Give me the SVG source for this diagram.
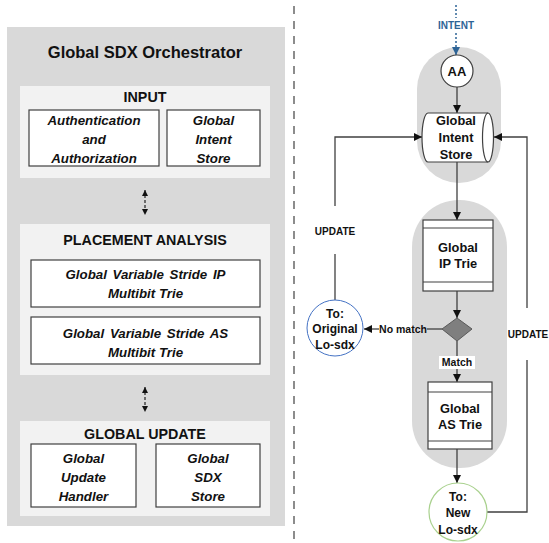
<svg xmlns="http://www.w3.org/2000/svg" width="549" height="543" viewBox="0 0 549 543">
<defs>
<style>
.t{font-family:"Liberation Sans",Arial,sans-serif;font-weight:bold;fill:#111;text-anchor:middle}
.it{font-style:italic;font-size:13.3px}
.hd{font-size:14.3px}
.rt{font-size:12.8px}
.sm{font-size:10px}
.box{fill:#fff;stroke:#404040;stroke-width:1.2}
.sec{fill:#f2f2f2}
.ln{fill:none;stroke:#404040;stroke-width:1.3}
.dl{fill:none;stroke:#222;stroke-width:1.2;stroke-dasharray:3,2}
</style>
<marker id="ah" viewBox="0 0 10 10" refX="10" refY="5" markerWidth="8" markerHeight="8" markerUnits="userSpaceOnUse" orient="auto"><path d="M0,0 L10,5 L0,10 Z" fill="#111"/></marker>
<marker id="ahs" viewBox="0 0 10 10" refX="10" refY="5" markerWidth="6" markerHeight="6" markerUnits="userSpaceOnUse" orient="auto-start-reverse"><path d="M0,0 L10,5 L0,10 Z" fill="#111"/></marker>
<marker id="ahb" viewBox="0 0 10 10" refX="10" refY="5" markerWidth="8" markerHeight="8" markerUnits="userSpaceOnUse" orient="auto"><path d="M0,0 L10,5 L0,10 Z" fill="#2e6496"/></marker>
</defs>
<rect width="549" height="543" fill="#fff"/>

<!-- Left panel -->
<g id="orchestrator">
<rect x="7" y="27" width="278" height="499" fill="#d9d9d9"/>
<text class="t" x="145" y="58" font-size="16.5">Global SDX Orchestrator</text>
</g>
<g id="input">
<rect class="sec" x="20" y="86" width="250" height="92"/>
<text class="t hd" x="145" y="101.5">INPUT</text>
</g>
<g id="auth">
<rect class="box" x="29" y="110" width="130" height="56"/>
<text class="t it" x="94" y="124.5">Authentication</text>
<text class="t it" x="94" y="143.5">and</text>
<text class="t it" x="94" y="162.5">Authorization</text>
</g>
<g id="gis-left">
<rect class="box" x="167" y="110" width="93" height="56"/>
<text class="t it" x="213.5" y="124.5">Global</text>
<text class="t it" x="213.5" y="143.5">Intent</text>
<text class="t it" x="213.5" y="162.5">Store</text>
</g>
<g id="placement">
<rect class="sec" x="20" y="224" width="250" height="151"/>
<text class="t hd" x="145" y="244.5">PLACEMENT ANALYSIS</text>
</g>
<g id="ip-multibit">
<rect class="box" x="31" y="260" width="229" height="47"/>
<text class="t it" x="145.5" y="278.5" word-spacing="2">Global Variable Stride IP</text>
<text class="t it" x="145.5" y="297.5">Multibit Trie</text>
</g>
<g id="as-multibit">
<rect class="box" x="31" y="317" width="229" height="47"/>
<text class="t it" x="145.5" y="337.5" word-spacing="2">Global Variable Stride AS</text>
<text class="t it" x="145.5" y="356.5">Multibit Trie</text>
</g>
<g id="global-update">
<rect class="sec" x="20" y="421" width="250" height="95"/>
<text class="t hd" x="145" y="438.5">GLOBAL UPDATE</text>
</g>
<g id="update-handler">
<rect class="box" x="31" y="444" width="105" height="63"/>
<text class="t it" x="83.5" y="462.5">Global</text>
<text class="t it" x="83.5" y="482">Update</text>
<text class="t it" x="83.5" y="500.5">Handler</text>
</g>
<g id="sdx-store">
<rect class="box" x="156" y="444" width="104" height="63"/>
<text class="t it" x="208" y="462.5">Global</text>
<text class="t it" x="208" y="482">SDX</text>
<text class="t it" x="208" y="500.5">Store</text>
</g>

<!-- divider -->
<line x1="294" y1="6" x2="294" y2="543" stroke="#8c8c8c" stroke-width="2" stroke-dasharray="8,7"/>

<!-- Right side backgrounds -->
<rect x="417" y="47" width="84" height="136" rx="42" ry="42" fill="#d9d9d9"/>
<rect x="412" y="200" width="95" height="268" rx="47" ry="47" fill="#d9d9d9"/>

<!-- connectors -->
<g id="connectors">
<line x1="145" y1="190" x2="145" y2="215" class="dl" marker-start="url(#ahs)" marker-end="url(#ahs)"/>
<line x1="145" y1="387" x2="145" y2="412" class="dl" marker-start="url(#ahs)" marker-end="url(#ahs)"/>
<line x1="456" y1="5" x2="456" y2="18" stroke="#2e6496" stroke-width="1.5" stroke-dasharray="2,2"/>
<line x1="456" y1="33" x2="456" y2="55" stroke="#2e6496" stroke-width="1.5" stroke-dasharray="2,2" marker-end="url(#ahb)"/>
<line x1="457" y1="87" x2="457" y2="113" class="ln" marker-end="url(#ah)"/>
<line x1="457" y1="162" x2="457" y2="220" class="ln" marker-end="url(#ah)"/>
<line x1="457" y1="291" x2="457" y2="318" class="ln" marker-end="url(#ah)"/>
<line x1="442" y1="329" x2="427" y2="329" class="ln"/>
<line x1="379" y1="329" x2="364" y2="329" class="ln" marker-end="url(#ah)"/>
<line x1="457" y1="341" x2="457" y2="382" class="ln" marker-end="url(#ah)"/>
<line x1="457" y1="449" x2="457" y2="483" class="ln" marker-end="url(#ah)"/>
<polyline points="335,206 335,137 422,137" class="ln" marker-end="url(#ah)"/>
<line x1="335" y1="254" x2="335" y2="300" class="ln"/>
<polyline points="487,512 527,512 527,360" class="ln"/>
<polyline points="527,308 527,137 494,137" class="ln" marker-end="url(#ah)"/>
<text class="t sm" x="335" y="234.5">UPDATE</text>
<text class="t sm" x="528" y="337.5">UPDATE</text>
<text class="t" x="403" y="332.5" font-size="10.5">No match</text>
<rect x="439" y="356" width="36" height="13" fill="#fff"/>
<text class="t" x="457" y="366" font-size="10.5">Match</text>
<text class="t sm" x="456" y="28.5" style="fill:#2e6496">INTENT</text>
</g>

<g id="aa">
<circle cx="457" cy="71" r="16" fill="#fff" stroke="#404040" stroke-width="1.2"/>
<text class="t" x="457" y="75.5" font-size="13">AA</text>
</g>
<g id="global-intent-store">
<path d="M428,113 L488,113 A5.5,24.5 0 0 1 488,162 L428,162 A6,24.5 0 0 1 428,113 Z" fill="#fff" stroke="#404040" stroke-width="1.2"/>
<path d="M488,113 A5.5,24.5 0 0 0 488,162" fill="none" stroke="#404040" stroke-width="1.2"/>
<text class="t rt" x="456" y="124.5">Global</text>
<text class="t rt" x="456" y="141.5">Intent</text>
<text class="t rt" x="456" y="158.5">Store</text>
</g>
<g id="ip-trie">
<rect class="box" x="423" y="220" width="70" height="71"/>
<line x1="423" y1="228" x2="493" y2="228" stroke="#404040" stroke-width="1.2"/>
<line x1="423" y1="282" x2="493" y2="282" stroke="#404040" stroke-width="1.2"/>
<text class="t rt" x="458" y="251.5">Global</text>
<text class="t rt" x="458" y="267.5">IP Trie</text>
</g>
<g id="decision">
<polygon points="457,318 472,329 457,341 442,329" fill="#7f7f7f" stroke="#595959" stroke-width="1"/>
</g>
<g id="original-losdx">
<circle cx="335" cy="328" r="28" fill="#fff" stroke="#4472c4" stroke-width="1"/>
<text class="t" x="335" y="317.5" font-size="12">To:</text>
<text class="t" x="335" y="332.5" font-size="12">Original</text>
<text class="t" x="335" y="348.5" font-size="12">Lo-sdx</text>
</g>
<g id="as-trie">
<rect class="box" x="428" y="382" width="64" height="67"/>
<line x1="428" y1="392" x2="492" y2="392" stroke="#404040" stroke-width="1.2"/>
<line x1="428" y1="441" x2="492" y2="441" stroke="#404040" stroke-width="1.2"/>
<text class="t rt" x="460" y="412.5">Global</text>
<text class="t rt" x="460" y="428.5">AS Trie</text>
</g>
<g id="new-losdx">
<circle cx="458" cy="512" r="29" fill="#fff" stroke="#a9d18e" stroke-width="1.2"/>
<text class="t" x="458" y="500.5" font-size="12">To:</text>
<text class="t" x="458" y="517" font-size="12">New</text>
<text class="t" x="458" y="533.5" font-size="12">Lo-sdx</text>
</g>
</svg>
